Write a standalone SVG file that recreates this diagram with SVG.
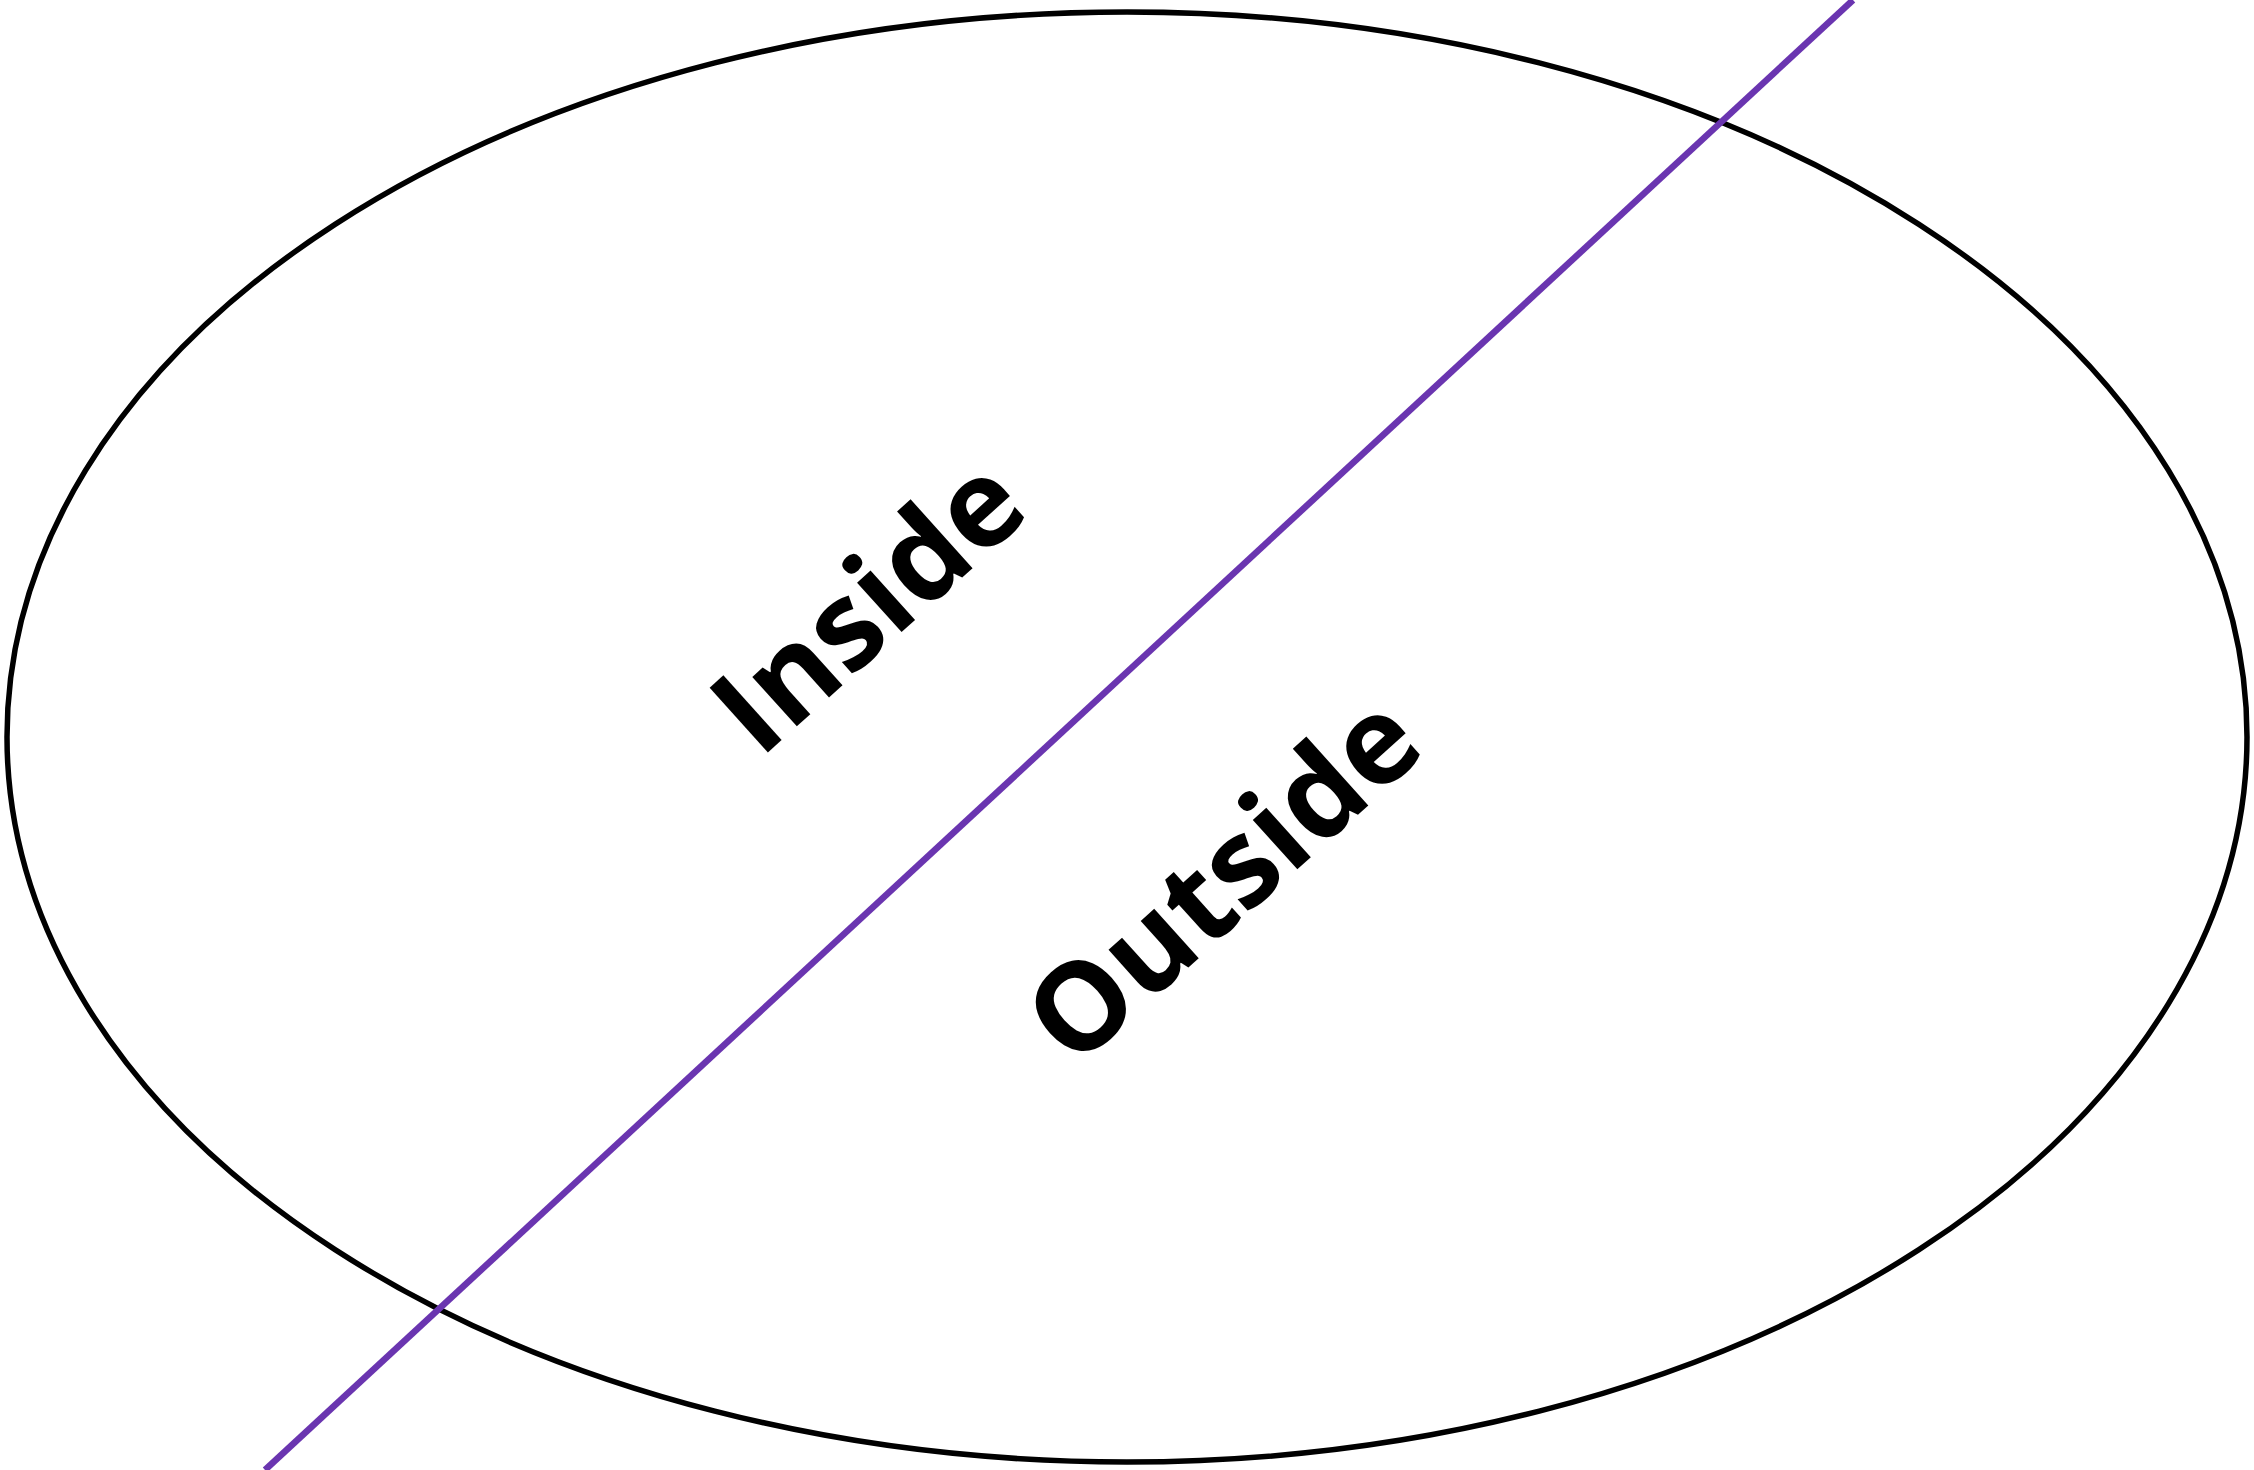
<svg xmlns="http://www.w3.org/2000/svg" width="2254" height="1470" viewBox="0 0 2254 1470">
<style>
.lbl{font-family:"Open Sans","Noto Sans","Liberation Sans",sans-serif;font-weight:bold;font-size:122px;fill:#000;text-anchor:middle}
</style>
<rect width="2254" height="1470" fill="#fff"/>
<g id="region">
<ellipse cx="1127" cy="737" rx="1120" ry="725" fill="none" stroke="#000" stroke-width="5.5"/>
</g>
<g id="connectors">
<line x1="265" y1="1470" x2="1853" y2="0" stroke="#6a35b0" stroke-width="6.5"/>
</g>
<g id="inside">
<text class="lbl" transform="translate(867,604) rotate(-42)" y="44">Inside</text>
</g>
<g id="outside">
<text class="lbl" transform="translate(1222,878) rotate(-42)" y="44">Outside</text>
</g>
</svg>
